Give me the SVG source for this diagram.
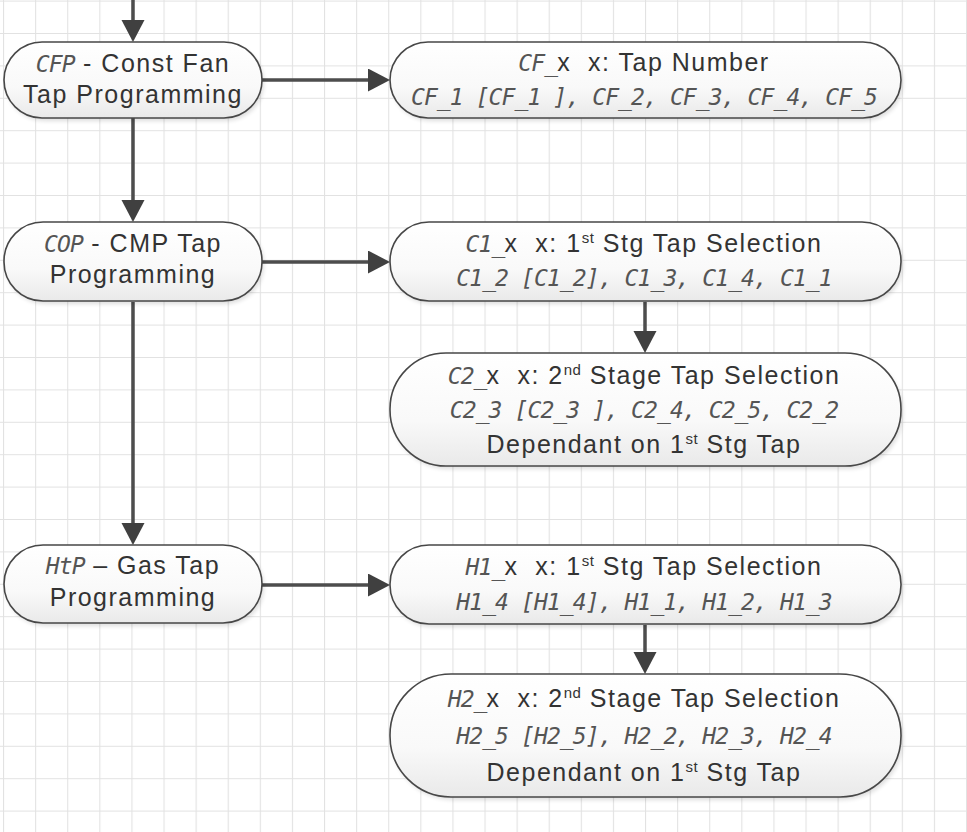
<svg xmlns="http://www.w3.org/2000/svg" width="967" height="832" viewBox="0 0 967 832">
<style>
.node rect.body{fill:url(#ng);stroke:#474747;stroke-width:1.6}
.node rect.sh{fill:#000;opacity:0.13;filter:url(#blur)}
text{font-family:"Liberation Sans",Arial,sans-serif;font-size:25px;fill:#333;letter-spacing:1.5px;text-anchor:middle}
.seg{font-family:"DejaVu Sans Mono","Liberation Mono",monospace;font-style:oblique;font-size:23px;fill:#555;letter-spacing:-0.9px}
.sup{font-size:15px;letter-spacing:0.5px}
.conn path{fill:none;stroke:#4d4d4d;stroke-width:3.5}
</style>
<defs>
<pattern id="grid" patternUnits="userSpaceOnUse" x="3" y="0.6" width="32.1" height="32.4">
<path d="M0.5 0V32.4M0 0.5H32.1" stroke="#e2e2e2" stroke-width="1.2" fill="none"/>
</pattern>
<linearGradient id="ng" x1="0" y1="0" x2="0" y2="1">
<stop offset="0" stop-color="#ffffff"/>
<stop offset="0.6" stop-color="#f9f9f9"/>
<stop offset="1" stop-color="#e9e9e9"/>
</linearGradient>
<filter id="blur" x="-10%" y="-20%" width="120%" height="140%"><feGaussianBlur stdDeviation="2"/></filter>
<marker id="ah" markerUnits="userSpaceOnUse" markerWidth="24" markerHeight="24" refX="12" refY="11.5" orient="auto">
<path d="M0 0L22 11.5L0 23Z" fill="#404040"/>
</marker>
</defs>
<rect width="967" height="832" fill="#fff"/>
<rect width="967" height="832" fill="url(#grid)"/>

<g class="conn" id="connectors">
<path d="M133 0V32" marker-end="url(#ah)"/>
<path d="M133 118V212" marker-end="url(#ah)"/>
<path d="M133 302V535" marker-end="url(#ah)"/>
<path d="M262 80H380" marker-end="url(#ah)"/>
<path d="M262 262H380" marker-end="url(#ah)"/>
<path d="M262 585H380" marker-end="url(#ah)"/>
<path d="M645 302V343" marker-end="url(#ah)"/>
<path d="M645 625V664" marker-end="url(#ah)"/>
</g>

<g class="node" id="cfp">
<rect class="sh" x="6" y="45" width="258" height="76" rx="38"/>
<rect class="body" x="4" y="42" width="258" height="76" rx="38"/>
<text x="133" y="72"><tspan class="seg">CFP</tspan> - Const Fan</text>
<text x="133" y="103">Tap Programming</text>
</g>

<g class="node" id="cop">
<rect class="sh" x="6" y="225" width="258" height="79" rx="39"/>
<rect class="body" x="4" y="222" width="258" height="79" rx="39"/>
<text x="133" y="252"><tspan class="seg">COP</tspan> - CMP Tap</text>
<text x="133" y="283">Programming</text>
</g>

<g class="node" id="htp">
<rect class="sh" x="6" y="548" width="258" height="78" rx="39"/>
<rect class="body" x="4" y="545" width="258" height="78" rx="39"/>
<text x="133" y="574"><tspan class="seg">HtP</tspan> – Gas Tap</text>
<text x="133" y="606">Programming</text>
</g>

<g class="node" id="cfx">
<rect class="sh" x="392" y="45" width="511" height="76" rx="38"/>
<rect class="body" x="390" y="42" width="511" height="76" rx="38"/>
<text x="644" y="71"><tspan class="seg">CF_</tspan>x&#160; x: Tap Number</text>
<text x="644" y="105" class="seg">CF_1 [CF_1 ], CF_2, CF_3, CF_4, CF_5</text>
</g>

<g class="node" id="c1x">
<rect class="sh" x="392" y="225" width="511" height="79" rx="39"/>
<rect class="body" x="390" y="222" width="511" height="79" rx="39"/>
<text x="644" y="252"><tspan class="seg">C1_</tspan>x&#160; x: 1<tspan class="sup" dy="-9">st</tspan><tspan dy="9"> Stg Tap Selection</tspan></text>
<text x="644" y="286" class="seg">C1_2 [C1_2], C1_3, C1_4, C1_1</text>
</g>

<g class="node" id="c2x">
<rect class="sh" x="392" y="356" width="511" height="113" rx="56"/>
<rect class="body" x="390" y="353" width="511" height="113" rx="56"/>
<text x="644" y="384"><tspan class="seg">C2_</tspan>x&#160; x: 2<tspan class="sup" dy="-9">nd</tspan><tspan dy="9"> Stage Tap Selection</tspan></text>
<text x="644" y="418" class="seg">C2_3 [C2_3 ], C2_4, C2_5, C2_2</text>
<text x="644" y="453">Dependant on 1<tspan class="sup" dy="-9">st</tspan><tspan dy="9"> Stg Tap</tspan></text>
</g>

<g class="node" id="h1x">
<rect class="sh" x="392" y="548" width="511" height="79" rx="39"/>
<rect class="body" x="390" y="545" width="511" height="79" rx="39"/>
<text x="644" y="575"><tspan class="seg">H1_</tspan>x&#160; x: 1<tspan class="sup" dy="-9">st</tspan><tspan dy="9"> Stg Tap Selection</tspan></text>
<text x="644" y="610" class="seg">H1_4 [H1_4], H1_1, H1_2, H1_3</text>
</g>

<g class="node" id="h2x">
<rect class="sh" x="392" y="677" width="511" height="123" rx="61"/>
<rect class="body" x="390" y="674" width="511" height="123" rx="61"/>
<text x="644" y="707"><tspan class="seg">H2_</tspan>x&#160; x: 2<tspan class="sup" dy="-9">nd</tspan><tspan dy="9"> Stage Tap Selection</tspan></text>
<text x="644" y="744" class="seg">H2_5 [H2_5], H2_2, H2_3, H2_4</text>
<text x="644" y="781">Dependant on 1<tspan class="sup" dy="-9">st</tspan><tspan dy="9"> Stg Tap</tspan></text>
</g>
</svg>
